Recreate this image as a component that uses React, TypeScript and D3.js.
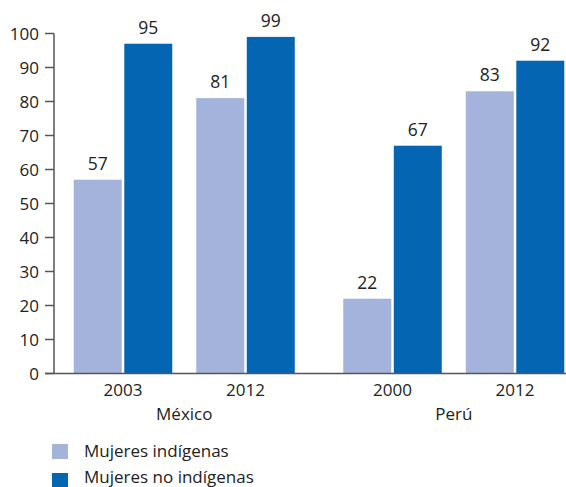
import React from "react";
import * as d3 from "d3";

const countries = ["México", "Perú"];
const years = [["2003", "2012"], ["2000", "2012"]];
const seriesNames = ["Mujeres indígenas", "Mujeres no indígenas"];
// bar heights as drawn in the picture
const indigenas = [[57, 81], [22, 83]];
const noIndigenas = [[97, 99], [67, 92]];
// value labels as printed
const indigenasLabels = ["57", "81", "22", "83"];
const noIndigenasLabels = ["95", "99", "67", "92"];
const yTicks = [0, 10, 20, 30, 40, 50, 60, 70, 80, 90, 100];

const colors = ["#A3B3DB", "#0466B2"];
const FONT = "'Open Sans', sans-serif";
const TEXT = "#222";
const AXIS = "#555";

export default function App() {
  const W = 566, H = 487;
  const x0 = 54;
  const y = d3.scaleLinear().domain([0, 100]).range([373.5, 33.5]);
  const xc = d3.scaleBand<string>().domain(countries).range([56.25, 581.8]).paddingInner(0.05).paddingOuter(0);
  const B = xc.bandwidth();
  const xy = d3.scaleBand<number>().domain([0, 1]).range([0, B]).paddingInner(0.196).paddingOuter(0.143);
  const xs = d3.scaleBand<number>().domain([0, 1]).range([0, xy.bandwidth()]).paddingInner(0.05);

  const bars: any[] = [];
  const labels: any[] = [];
  const yearLabels: any[] = [];
  countries.forEach((c, ci) => {
    [0, 1].forEach((yi) => {
      const gx = (xc(c) as number) + (xy(yi) as number);
      yearLabels.push(
        <text key={`yl${ci}${yi}`} x={gx + xy.bandwidth() / 2} y={396} textAnchor="middle" fontSize={17} fill={TEXT} fontFamily={FONT}>
          {years[ci][yi]}
        </text>
      );
      const vals = [indigenas[ci][yi], noIndigenas[ci][yi]];
      const labs = [indigenasLabels[ci * 2 + yi], noIndigenasLabels[ci * 2 + yi]];
      vals.forEach((v, si) => {
        const bx = gx + (xs(si) as number);
        bars.push(
          <rect key={`b${ci}${yi}${si}`} x={bx} y={y(v)} width={xs.bandwidth()} height={y(0) - y(v)} fill={colors[si]} />
        );
        labels.push(
          <text key={`l${ci}${yi}${si}`} x={bx + xs.bandwidth() / 2} y={y(v) - 10} textAnchor="middle" fontSize={17.5} fill={TEXT} fontFamily={FONT}>
            {labs[si]}
          </text>
        );
      });
    });
  });

  return (
    <svg width={W} height={H} style={{ position: "absolute", left: 0, top: 0, background: "#fff" }}>
      {bars}
      <line x1={x0} x2={x0} y1={y(100)} y2={y(0)} stroke={AXIS} strokeWidth={1.5} />
      {yTicks.map((t) => (
        <g key={t}>
          <line x1={45} x2={x0} y1={y(t)} y2={y(t)} stroke={AXIS} strokeWidth={1.5} />
          <text x={39} y={y(t)} dy="0.36em" textAnchor="end" fontSize={17} fill={TEXT} fontFamily={FONT}>
            {t}
          </text>
        </g>
      ))}
      <line x1={45} x2={W} y1={y(0)} y2={y(0)} stroke={AXIS} strokeWidth={1.5} />
      {labels}
      {yearLabels}
      {countries.map((c) => (
        <text key={c} x={(xc(c) as number) + B / 2} y={420} textAnchor="middle" fontSize={17} fill={TEXT} fontFamily={FONT}>
          {c}
        </text>
      ))}
      {seriesNames.map((s, i) => (
        <g key={s}>
          <rect x={52} y={444 + i * 29} width={16} height={15} fill={colors[i]} />
          <text x={84} y={457 + i * 26} fontSize={17} fill={TEXT} fontFamily={FONT}>
            {s}
          </text>
        </g>
      ))}
    </svg>
  );
}
